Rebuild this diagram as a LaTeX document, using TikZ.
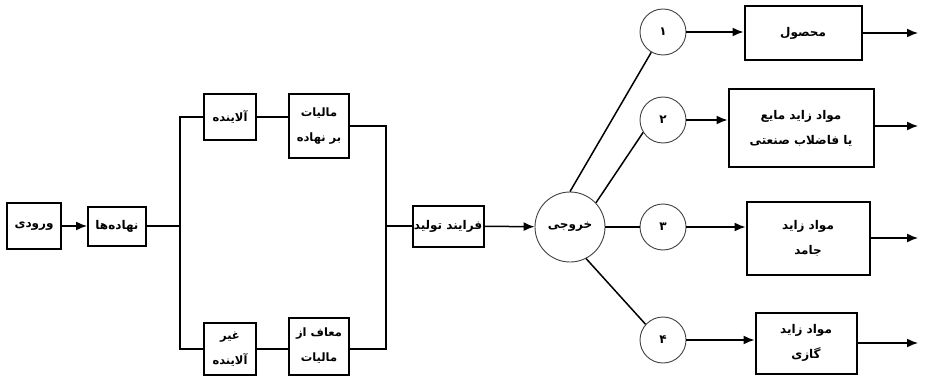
\documentclass[tikz,border=0pt]{standalone}
\usepackage{fontspec}
\usetikzlibrary{arrows.meta,calc}
\TeXXeTstate=1
\newfontfamily\arabicfont[Script=Arabic]{DejaVu Sans}
\newcommand{\fa}[1]{{\arabicfont\bfseries\beginR #1\endR}}
\begin{document}
\begin{tikzpicture}[x=1pt,y=-1pt,
  box/.style={draw,line width=2pt,inner sep=0pt,align=center,font=\fontsize{12}{25}\selectfont},
  small/.style={font=\fontsize{11.5}{25}\selectfont},
  circ/.style={circle,draw=black!75,line width=0.9pt,inner sep=0pt,font=\fontsize{12}{14}\selectfont},
  ln/.style={line width=1.5pt},
  arr/.style={line width=1.5pt,-{Latex[length=11pt,width=9pt]}}]
\useasboundingbox (0,0) rectangle (926,377);
% left part
\node[box,minimum width=54,minimum height=46] (vorudi) at (34,226) {\fa{ورودی}};
\node[box,minimum width=58,minimum height=39] (nahade) at (117,226) {\fa{نهاده‌ها}};
\node[box,small,minimum width=52,minimum height=46] (alay) at (230,117) {\fa{آلاینده}};
\node[box,small,minimum width=60,minimum height=64] (maliat) at (319,126) {\fa{مالیات}\\\fa{بر نهاده}};
\node[box,small,minimum width=52,minimum height=52] (ghayr) at (230,349) {\fa{غیر}\\\fa{آلاینده}};
\node[box,small,minimum width=60,minimum height=57] (moaf) at (319,346) {\fa{معاف از}\\\fa{مالیات}};
\node[box,minimum width=71,minimum height=41] (farayand) at (448,226) {\fa{فرایند تولید}};
\node[circ,minimum size=70] (out) at (570,227) {\fa{خروجی}};
% right part
\node[circ,minimum size=46] (c1) at (663,32) {\fa{۱}};
\node[circ,minimum size=46] (c2) at (663,120) {\fa{۲}};
\node[circ,minimum size=46] (c3) at (663,227) {\fa{۳}};
\node[circ,minimum size=46] (c4) at (663,340) {\fa{۴}};
\node[box,minimum width=117,minimum height=54] (b1) at (803,33) {\fa{محصول}};
\node[box,minimum width=145,minimum height=77] (b2) at (801,128) {\fa{مواد زاید مایع}\\\fa{یا فاضلاب صنعتی}};
\node[box,minimum width=123,minimum height=73] (b3) at (808,238) {\fa{مواد زاید}\\\fa{جامد}};
\node[box,minimum width=101,minimum height=61] (b4) at (806,343) {\fa{مواد زاید}\\\fa{گازی}};
\coordinate (busL) at (180,226);
\coordinate (busR) at (386,226);
\coordinate (oend) at (918,0);
% connectors
\draw[arr] (vorudi) -- (nahade);
\draw[ln] (nahade) -- (busL);
\draw[ln] (alay.west) -| (busL) |- (ghayr.west);
\draw[ln] (alay) -- (maliat.west |- alay);
\draw[ln] (ghayr) -- (moaf.west |- ghayr);
\draw[ln] (maliat.east) -| (busR) |- (moaf.east |- ghayr);
\draw[ln] (busR) -- (farayand);
\draw[arr] (farayand) -- (out);
\draw[ln] (out.north) -- (c1.240);
\draw[ln] (out.43) -- (c2.212);
\draw[ln] (out) -- (c3);
\draw[ln] (out.297) -- (c4.138);
\draw[arr] (c1) -- (c1 -| b1.west);
\draw[arr] (c2) -- (c2 -| b2.west);
\draw[arr] (c3) -- (c3 -| b3.west);
\draw[arr] (c4) -- (c4 -| b4.west);
\draw[arr] (b1.east) -- (b1.east -| oend);
\draw[arr] ([yshift=2pt]b2.east) -- ([yshift=2pt]b2.east -| oend);
\draw[arr] (b3.east) -- (b3.east -| oend);
\draw[arr] (b4.east) -- (b4.east -| oend);
\end{tikzpicture}
\end{document}
